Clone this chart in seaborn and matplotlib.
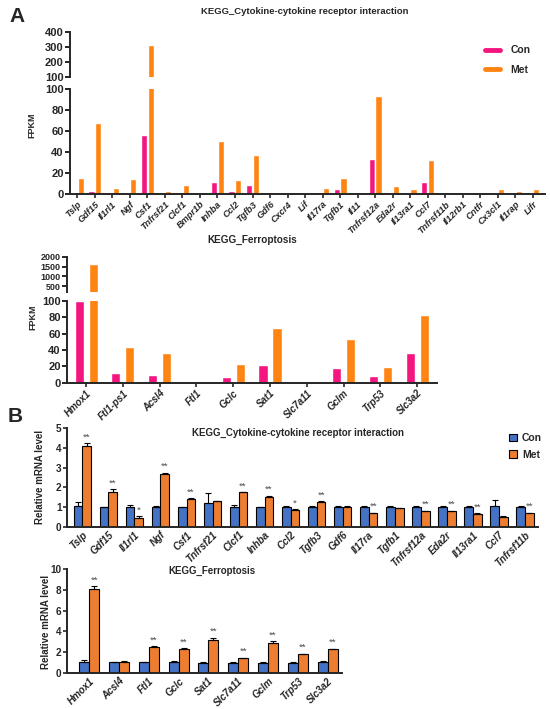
import pandas as pd
import matplotlib
matplotlib.use("Agg")
import matplotlib.pyplot as plt
from matplotlib.lines import Line2D
from matplotlib.patches import Patch
import seaborn as sns

# ---- data ----
# A: FPKM, cytokine-cytokine receptor interaction
cyto_genes = ['Tslp', 'Gdf15', 'Il1rl1', 'Ngf', 'Csf1', 'Tnfrsf21', 'Clcf1', 'Bmpr1b', 'Inhba',
              'Ccl2', 'Tgfb3', 'Gdf6', 'Cxcr4', 'Lif', 'Il17ra', 'Tgfb1', 'Il11', 'Tnfrsf12a',
              'Eda2r', 'Il13ra1', 'Ccl7', 'Tnfrsf11b', 'Il12rb1', 'Cntfr', 'Cx3cl1', 'Il1rap', 'Lifr']
cyto_con = [0.3, 2.6, 0.3, 1.6, 56.5, 0.3, 1.6, 0.2, 11.3, 2.6, 9.0, 0.2, 0.0, 0.3,
            1.6, 4.5, 0.1, 33.0, 2.3, 1.3, 11.0, 0.3, 0.1, 0.2, 1.3, 1.0, 2.0]
cyto_met = [15.5, 67.5, 5.5, 14.0, 316.0, 3.0, 8.7, 1.6, 50.6, 13.0, 36.8, 0.5, 0.1, 1.3,
            6.0, 15.0, 0.2, 93.5, 7.4, 4.8, 32.0, 2.0, 0.2, 1.0, 4.5, 3.2, 4.8]

# A: FPKM, ferroptosis
ferro_genes = ['Hmox1', 'Ftl1-ps1', 'Acsl4', 'Ftl1', 'Gclc', 'Sat1', 'Slc7a11', 'Gclm', 'Trp53', 'Slc3a2']
ferro_con = [100.0, 11.3, 9.6, 0.2, 6.4, 21.5, 0.2, 17.8, 7.6, 35.8]
ferro_met = [1620.0, 43.0, 35.8, 0.3, 22.3, 66.5, 0.8, 53.0, 19.0, 82.8]

# B: qPCR, cytokine-cytokine receptor interaction
qpcr_genes = ['Tslp', 'Gdf15', 'Il1rl1', 'Ngf', 'Csf1', 'Tnfrsf21', 'Clcf1', 'Inhba', 'Ccl2',
              'Tgfb3', 'Gdf6', 'Il17ra', 'Tgfb1', 'Tnfrsf12a', 'Eda2r', 'Il13ra1', 'Ccl7', 'Tnfrsf11b']
qpcr_con = [1.05, 1.0, 1.03, 1.02, 1.0, 1.2, 1.0, 1.0, 1.02, 1.02, 1.02, 1.02, 1.02, 1.02, 1.02, 1.03, 1.08, 1.02]
qpcr_con_err = [0.19, 0.02, 0.1, 0.03, 0.02, 0.53, 0.1, 0.02, 0.02, 0.02, 0.03, 0.03, 0.02, 0.02, 0.02, 0.04, 0.3, 0.03]
qpcr_met = [4.1, 1.78, 0.47, 2.7, 1.42, 1.3, 1.75, 1.54, 0.88, 1.27, 1.02, 0.71, 0.95, 0.8, 0.8, 0.66, 0.53, 0.71]
qpcr_met_err = [0.14, 0.12, 0.07, 0.05, 0.03, 0.02, 0.02, 0.04, 0.02, 0.03, 0.05, 0.02, 0.02, 0.02, 0.02, 0.03, 0.02, 0.02]
qpcr_sig = ['**', '**', '*', '**', '**', '', '**', '**', '*', '**', '', '**', '', '**', '**', '**', '', '**']

# B: qPCR, ferroptosis
fe_genes = ['Hmox1', 'Acsl4', 'Ftl1', 'Gclc', 'Sat1', 'Slc7a11', 'Gclm', 'Trp53', 'Slc3a2']
fe_con = [1.03, 1.03, 1.03, 1.03, 0.97, 0.97, 0.97, 0.97, 1.03]
fe_con_err = [0.26, 0.03, 0.05, 0.13, 0.04, 0.13, 0.13, 0.05, 0.13]
fe_met = [8.1, 1.1, 2.52, 2.32, 3.16, 1.45, 2.9, 1.8, 2.26]
fe_met_err = [0.23, 0.02, 0.05, 0.05, 0.23, 0.04, 0.16, 0.04, 0.06]
fe_sig = ['**', '', '**', '**', '**', '**', '**', '**', '**']

pal_a = {'Con': '#F5157F', 'Met': '#FF8411'}
pal_b = {'Con': '#4472C4', 'Met': '#ED7D31'}

sns.set_style("ticks")
plt.rcParams['font.family'] = ['Liberation Sans', 'DejaVu Sans']
plt.rcParams['axes.linewidth'] = 1.4

W, H = 550, 709
fig = plt.figure(figsize=(5.5, 7.09), dpi=100)


def add_ax(x0, y0, x1, y1):
    # pixel box (top-left origin) -> figure axes
    return fig.add_axes([x0 / W, 1 - y1 / H, (x1 - x0) / W, (y1 - y0) / H])


def long_df(genes, con, met):
    n = len(genes)
    return pd.DataFrame({'gene': genes * 2,
                         'group': ['Con'] * n + ['Met'] * n,
                         'val': list(con) + list(met)})


def fpkm_panel(ax_top, ax_bot, genes, con, met, top_lim, top_ticks, xlim, width, gap,
               ytick_top_fs, xlab_fs):
    df = long_df(genes, con, met)
    for ax in (ax_top, ax_bot):
        sns.barplot(data=df, x='gene', y='val', hue='group', palette=pal_a, width=width,
                    gap=gap, errorbar=None, legend=False, saturation=1, ax=ax)
        ax.set_xlim(*xlim)
        ax.set_xlabel('')
        ax.set_ylabel('')
        ax.spines[['top', 'right']].set_visible(False)
        ax.tick_params(axis='y', width=1.4, length=3.5, pad=1)
    ax_top.set_ylim(*top_lim)
    ax_top.set_yticks(top_ticks)
    ax_top.spines['bottom'].set_visible(False)
    ax_top.set_xticks([])
    for lab in ax_top.get_yticklabels():
        lab.set_fontweight('bold')
        lab.set_fontsize(ytick_top_fs)
    ax_bot.set_ylim(0, 100)
    ax_bot.set_yticks(range(0, 101, 20))
    ax_bot.tick_params(axis='x', width=1.2, length=3, pad=1)
    for lab in ax_bot.get_yticklabels():
        lab.set_fontweight('bold')
        lab.set_fontsize(8)
    ax_bot.set_xticks(range(len(genes)))
    ax_bot.set_xticklabels(genes, rotation=45, ha='right', rotation_mode='anchor',
                           fontsize=xlab_fs, fontweight='bold', fontstyle='italic')


def qpcr_panel(ax, genes, con, con_err, met, met_err, sig, ylim, yticks, xlim):
    df = long_df(genes, con, met)
    sns.barplot(data=df, x='gene', y='val', hue='group', palette=pal_b, width=0.67,
                errorbar=None, legend=False, saturation=1, edgecolor='black',
                linewidth=0.8, ax=ax)
    for cont, errs in zip(ax.containers, (con_err, met_err)):
        xs = [p.get_x() + p.get_width() / 2 for p in cont.patches]
        ys = [p.get_height() for p in cont.patches]
        ax.errorbar(xs, ys, yerr=[[0] * len(errs), errs], fmt='none', ecolor='black',
                    elinewidth=0.8, capsize=2.2, capthick=0.8, zorder=1)
    for p, e, s in zip(ax.containers[1].patches, met_err, sig):
        if s:
            ax.annotate(s, (p.get_x() + p.get_width() / 2, p.get_height() + e),
                        xytext=(0, 1.2), textcoords='offset points', ha='center',
                        va='bottom', fontsize=6.8, color='#505050')
    ax.set_ylim(*ylim)
    ax.set_yticks(yticks)
    ax.set_xlim(*xlim)
    ax.set_xlabel('')
    ax.set_ylabel('')
    ax.spines[['top', 'right']].set_visible(False)
    ax.tick_params(axis='y', width=1.2, length=3, pad=1, labelsize=7.2)
    ax.tick_params(axis='x', length=0, pad=2)
    for lab in ax.get_yticklabels():
        lab.set_fontweight('bold')
    ax.set_xticks(range(len(genes)))
    ax.set_xticklabels(genes, rotation=45, ha='right', rotation_mode='anchor',
                       fontsize=7.1, fontweight='bold', fontstyle='italic')


# Panel A, cytokine
a1_top = add_ax(70, 32, 545, 77)
a1_bot = add_ax(70, 89, 545, 194)
fpkm_panel(a1_top, a1_bot, cyto_genes, cyto_con, cyto_met, (100, 400), [100, 200, 300, 400],
           (-0.42, 26.7), 0.78, 0.1, 8, 6.6)

# Panel A, ferroptosis
a2_top = add_ax(67, 257, 437, 292)
a2_bot = add_ax(67, 301, 437, 382.5)
fpkm_panel(a2_top, a2_bot, ferro_genes, ferro_con, ferro_met, (200, 2000), [500, 1000, 1500, 2000],
           (-0.52, 9.54), 0.76, 0.35, 6.5, 7)

# Panel B
b1 = add_ax(67, 428, 538, 527)
qpcr_panel(b1, qpcr_genes, qpcr_con, qpcr_con_err, qpcr_met, qpcr_met_err, qpcr_sig,
           (0, 5), range(0, 6), (-0.59, 17.5))
b2 = add_ax(67, 569, 342, 673)
qpcr_panel(b2, fe_genes, fe_con, fe_con_err, fe_met, fe_met_err, fe_sig,
           (0, 10), range(0, 11, 2), (-0.74, 8.48))

# titles, labels
fig.text(305 / W, 1 - 11 / H, 'KEGG_Cytokine-cytokine receptor interaction', ha='center',
         va='center', fontsize=6.8, fontweight='bold')
fig.text(252 / W, 1 - 240 / H, 'KEGG_Ferroptosis', ha='center', va='center',
         fontsize=7.2, fontweight='bold')
fig.text(298 / W, 1 - 433 / H, 'KEGG_Cytokine-cytokine receptor interaction', ha='center',
         va='center', fontsize=7, fontweight='bold')
fig.text(212 / W, 1 - 571 / H, 'KEGG_Ferroptosis', ha='center', va='center',
         fontsize=7, fontweight='bold')

fig.text(32 / W, 1 - 125 / H, 'FPKM', rotation=90, ha='center', va='center',
         fontsize=6.5, fontweight='bold')
fig.text(33 / W, 1 - 317 / H, 'FPKM', rotation=90, ha='center', va='center',
         fontsize=6.5, fontweight='bold')
fig.text(40 / W, 1 - 477 / H, 'Relative mRNA level', rotation=90, ha='center', va='center',
         fontsize=7, fontweight='bold')
fig.text(46 / W, 1 - 622 / H, 'Relative mRNA level', rotation=90, ha='center', va='center',
         fontsize=7, fontweight='bold')

fig.text(9 / W, 1 - 17 / H, 'A', ha='left', va='center', fontsize=15, fontweight='bold')
fig.text(8 / W, 1 - 416 / H, 'B', ha='left', va='center', fontsize=15, fontweight='bold')

# legends
leg_a = [Line2D([0], [0], color=pal_a[g], lw=3.5) for g in ('Con', 'Met')]
fig.legend(leg_a, ['Con', 'Met'], loc='upper left', bbox_to_anchor=(476 / W, 1 - 36 / H),
           frameon=False, handlelength=1.4, handletextpad=1.0, labelspacing=0.9,
           prop={'weight': 'bold', 'size': 7.5})
leg_b = [Patch(facecolor=pal_b[g], edgecolor='black', linewidth=0.8) for g in ('Con', 'Met')]
fig.legend(leg_b, ['Con', 'Met'], loc='upper left', bbox_to_anchor=(500 / W, 1 - 424 / H),
           frameon=False, handlelength=0.7, handleheight=0.7, handletextpad=0.5,
           labelspacing=0.6, prop={'weight': 'bold', 'size': 7.5})

fig.savefig("out.png", dpi=100)
